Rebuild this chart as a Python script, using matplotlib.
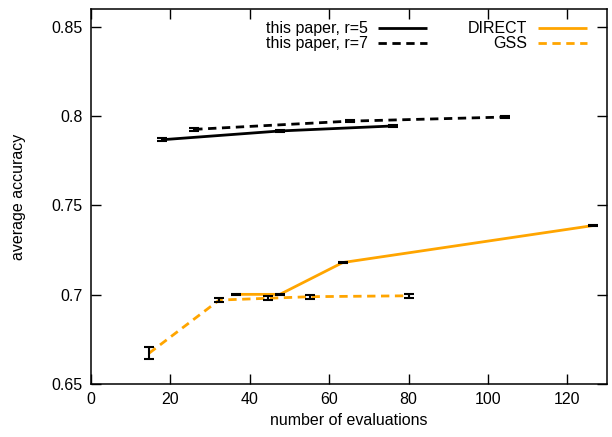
import numpy as np
import matplotlib.pyplot as plt

plt.rcParams['font.family'] = ['Liberation Sans', 'DejaVu Sans']

# this paper, r=5
r5_x = [18, 47.6, 76]
r5_y = [0.7868, 0.7917, 0.7945]
r5_err = [0.0007, 0.0006, 0.0008]

# this paper, r=7
r7_x = [26, 65.2, 104.3]
r7_y = [0.7926, 0.7972, 0.7995]
r7_err = [0.0008, 0.0007, 0.0007]

# DIRECT
direct_x = [36.5, 47.6, 63.4, 126.4]
direct_y = [0.7002, 0.7002, 0.7180, 0.7387]
direct_err = [0.0001, 0.0001, 0.0001, 0.0001]

# GSS
gss_x = [14.6, 32.3, 44.5, 55.3, 80.2]
gss_y = [0.6672, 0.6970, 0.6980, 0.6989, 0.6994]
gss_err = [0.0033, 0.0012, 0.0011, 0.0011, 0.0011]

orange = '#FFA500'
dash = (3, 2)
fs = 11.5

fig = plt.figure(figsize=(6.12, 4.37), dpi=100)
ax = fig.add_axes([91 / 612, 1 - 384 / 437, 516 / 612, 375 / 437])

ax.plot(r5_x, r5_y, color='black', lw=2, solid_capstyle='butt')
ax.plot(r7_x, r7_y, color='black', lw=2, ls=(0, dash))
ax.plot(direct_x, direct_y, color=orange, lw=2, solid_capstyle='butt')
ax.plot(gss_x, gss_y, color=orange, lw=2, ls=(0, dash))

for xs, ys, es in [(r5_x, r5_y, r5_err), (r7_x, r7_y, r7_err),
                   (direct_x, direct_y, direct_err), (gss_x, gss_y, gss_err)]:
    ax.errorbar(xs, ys, yerr=es, fmt='none', ecolor='black', elinewidth=1.5,
                capsize=3.8, capthick=1.5, zorder=3)

ax.set_xlim(0, 130)
ax.set_ylim(0.65, 0.86)
ax.set_xticks([0, 20, 40, 60, 80, 100, 120])
ax.set_yticks([0.65, 0.7, 0.75, 0.8, 0.85])
ax.set_yticklabels(['0.65', '0.7', '0.75', '0.8', '0.85'])
ax.tick_params(direction='in', length=7.5, width=1, top=True, right=True,
               labelsize=fs, pad=6)
for s in ax.spines.values():
    s.set_linewidth(1.1)
ax.set_xlabel('number of evaluations', fontsize=fs, labelpad=4)
ax.set_ylabel('average accuracy', fontsize=fs, labelpad=18)

# gnuplot-style key: right-aligned text with sample line
key = [('this paper, r=5', 'black', '-', 0.537, 0.556, 0.652, 0.9485),
       ('this paper, r=7', 'black', (0, dash), 0.537, 0.556, 0.652, 0.9085),
       ('DIRECT', orange, '-', 0.846, 0.866, 0.961, 0.9485),
       ('GSS', orange, (0, dash), 0.846, 0.866, 0.961, 0.9085)]
for label, c, ls, tx, x0, x1, y in key:
    ax.text(tx, y, label, transform=ax.transAxes, ha='right', va='center',
            fontsize=fs)
    ax.plot([x0, x1], [y, y], transform=ax.transAxes, color=c, lw=2, ls=ls,
            solid_capstyle='butt')

fig.savefig('out.png', dpi=100)
